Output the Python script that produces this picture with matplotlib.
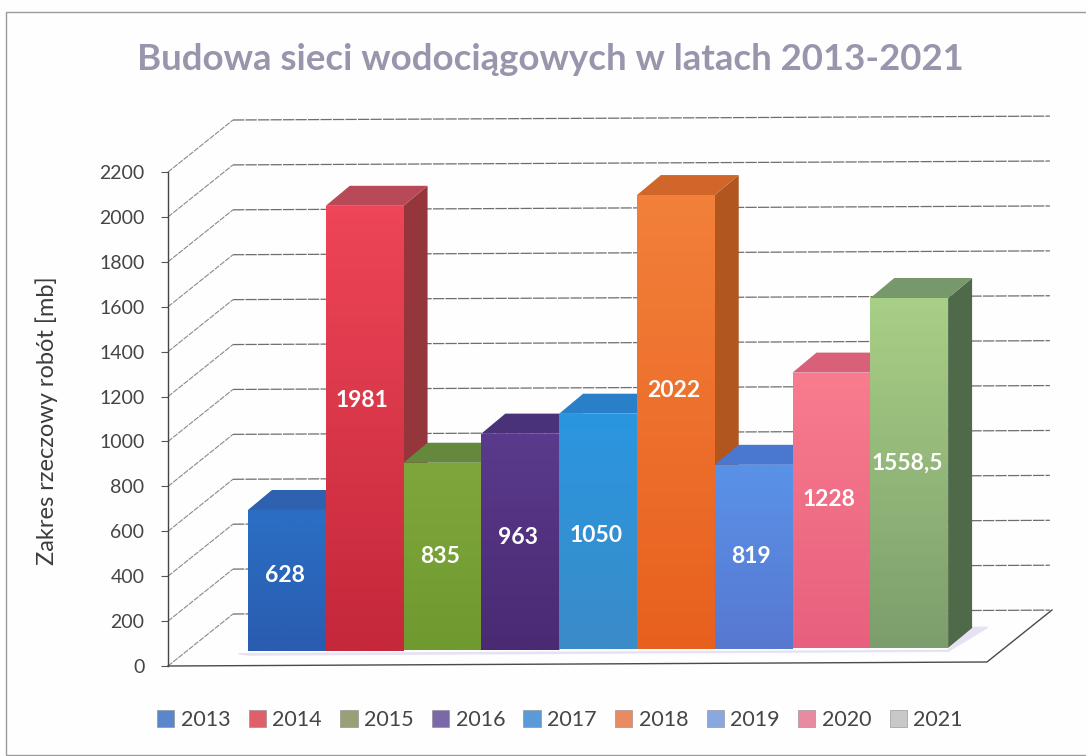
import numpy as np, matplotlib
matplotlib.use("Agg")
import matplotlib.pyplot as plt
from matplotlib.colors import LinearSegmentedColormap
from matplotlib.patches import Patch, Rectangle

years = ['2013','2014','2015','2016','2017','2018','2019','2020','2021']
values = [628, 1981, 835, 963, 1050, 2022, 819, 1228, 1558.5]
labels = ['628','1981','835','963','1050','2022','819','1228','1558,5']
ticks = [0,200,400,600,800,1000,1200,1400,1600,1800,2000,2200]

col_top = ['#2a6fc4','#ee4558','#7fa63c','#5a3a8c','#2a96e0','#f2803a','#5a92e8','#f87c8e','#a8cf86']
col_bot = ['#2a5cb0','#c4283a','#6f9a30','#4a2a72','#3a8cc8','#e8601e','#5878d0','#e8607e','#7c9e6c']
col_side = ['#1d4a8c','#94363c','#4e6e28','#3a2458','#1c6aa8','#b0561e','#3c5ca8','#b04a5c','#4e6a48']
col_roof = ['#2e62b0','#b84a58','#64883c','#4a3278','#2a80c8','#d0662a','#4a78d0','#d86078','#76986a']
col_leg = ['#5a86cc','#e0606a','#98a078','#7a68a8','#5a9ad8','#ea8a60','#8aa8e0','#e88aa0','#c8c8c8']
label_shift = [5,28,0,4,-4,32,0,11,10]   # px, Excel puts labels a bit off centre

PX_CAT = 77.8
PX_VAL = 494/2200
X0, X1 = -1.528, 9.0
DX, DY = 65/PX_CAT, 52/PX_VAL      # wall depth
BX, BY = 24/PX_CAT, 20/PX_VAL      # bar depth
TILT = 4/PX_VAL/(X1-X0)            # whole chart leans a little
BACK_R = X0 + (1050-168)/PX_CAT

def tilt(x):
    return (x-X0)*TILT

plt.rcParams['font.family'] = ['Lato','DejaVu Sans']
fig = plt.figure(figsize=(10.86,7.56), dpi=100, facecolor='#fefefe')
# frame runs off the scan on the right
fig.add_artist(Rectangle((6/1086,1-755/756), 1100/1086, 743/756, transform=fig.transFigure,
                         fill=False, ec='#9a9a9a', lw=1))
ax = fig.add_axes([168/1086,(756-666)/756,819/1086,494/756])
ax.patch.set_alpha(0)
ax.set_xlim(X0,X1); ax.set_ylim(0,2200)

for v in ticks:
    yb = v+DY
    ax.plot([X0,X0+DX],[v,yb],color='#8a8a8a',lw=0.8,ls=(0,(5,1)),clip_on=False,zorder=1)
    ax.plot([X0+DX,BACK_R],[yb,yb+tilt(BACK_R)*0.9],color='#6e6e6e',lw=0.9,ls=(0,(9,1)),clip_on=False,zorder=1)
# floor
ax.plot([X0,X1,X1+DX],[0,tilt(X1),DY+tilt(X1)],color='#4a4a4a',lw=1,clip_on=False,zorder=1.3)

base0 = 15/PX_VAL
x = np.arange(len(values))
# lavender shadow on the floor
ax.fill([x[0]-0.62,x[-1]+0.5,x[-1]+0.5+BX,x[-1]+0.5+BX+0.2,x[-1]+0.5,x[0]-0.5],
        [base0-12,base0-12+tilt(x[-1]+0.5)-tilt(x[0]),base0+BY+tilt(x[-1]),base0+BY+tilt(x[-1]),
         base0-18+tilt(x[-1]+.5),base0-18],
        color='#e6e2f4',zorder=1.5,clip_on=False)

for i,val in enumerate(values):
    base = base0+tilt(i)-tilt(0)*1.0
    top = base+val
    l,r = i-0.5,i+0.5
    ax.fill([r,r+BX,r+BX,r],[base,base+BY,top+BY,top],color=col_side[i],zorder=2+i,lw=0)
    ax.fill([l,l+BX,r+BX,r],[top,top+BY,top+BY,top],color=col_roof[i],zorder=2+i,lw=0)
    bar = ax.bar(i,val,width=1.0,bottom=base,color=col_bot[i],zorder=2+i,lw=0)[0]
    cm = LinearSegmentedColormap.from_list('c',[col_top[i],col_bot[i]])
    im = ax.imshow(np.linspace(0,1,64)[:,None],extent=(l,r,base,top),origin='upper',
                   cmap=cm,aspect='auto',zorder=2.1+i)
    im.set_clip_path(bar)
    ax.text(i-0.03,base+val/2+label_shift[i]/PX_VAL,labels[i],color='white',fontsize=16.5,fontweight='bold',
            ha='center',va='center',zorder=30)
ax.set_xlim(X0,X1); ax.set_ylim(0,2200)

for s in ['top','right','bottom']:
    ax.spines[s].set_visible(False)
ax.spines['left'].set_color('#444444'); ax.spines['left'].set_linewidth(1)
ax.set_xticks([])
ax.set_yticks(ticks)
ax.tick_params(axis='y',length=5,width=0.8,color='#555555',labelcolor='#454545',labelsize=14,pad=12)
fig.text(47/1086,1-421/756,'Zakres rzeczowy robót [mb]',rotation=90,ha='center',va='center',
         color='#3c3c3c',fontsize=17)
fig.text(550/1086,1-59/756,'Budowa sieci wodociągowych w latach 2013-2021',ha='center',va='center',
         color='#9a95ad',fontsize=26.4,fontweight='bold')

handles = [Patch(facecolor=c,edgecolor='#888888',lw=0.4,label=y) for c,y in zip(col_leg,years)]
fig.legend(handles=handles,ncol=9,loc='center',bbox_to_anchor=(560/1086,1-720/756),frameon=False,
           fontsize=15.5,labelcolor='#454545',handlelength=0.8,handleheight=0.8,
           handletextpad=0.3,columnspacing=0.85)
fig.savefig('out.png',dpi=100,facecolor=fig.get_facecolor())
